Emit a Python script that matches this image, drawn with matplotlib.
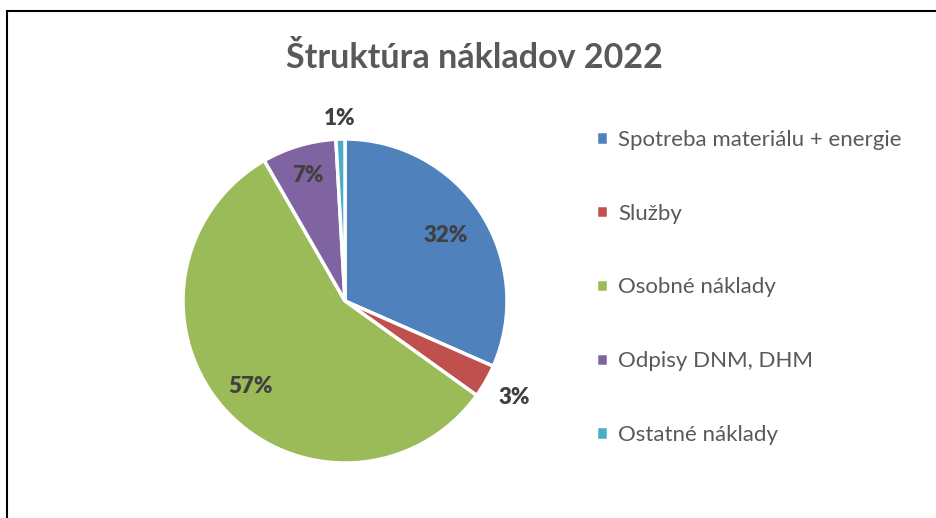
import matplotlib
matplotlib.use("Agg")
import matplotlib.pyplot as plt
from matplotlib.patches import Rectangle
import numpy as np

categories = ["Spotreba materiálu + energie", "Služby", "Osobné náklady",
              "Odpisy DNM, DHM", "Ostatné náklady"]
values = [31.6, 3.3, 56.8, 7.4, 0.9]
colors = ["#4F81BD", "#C0504D", "#9BBB59", "#8064A2", "#4BACC6"]
label_dist = [0.74, 1.2, 0.79, 0.81, 1.13]

plt.rcParams['font.family'] = ['Lato', 'DejaVu Sans']

fig = plt.figure(figsize=(9.36, 5.18), dpi=100)

# frame around the chart area (right and bottom edges run off the picture)
fig.patches.append(Rectangle((7 / 936, -0.1), 1.2, 1.1 - 11 / 518,
                             transform=fig.transFigure, fill=False,
                             edgecolor="black", linewidth=1.5))

ax = fig.add_axes([0.1609, 0.0436, 0.4154, 0.7506])
wedges, _ = ax.pie(values, colors=colors, startangle=90, counterclock=False,
                   radius=1.0, wedgeprops=dict(edgecolor="white", linewidth=2.5))
ax.set_xlim(-1.2, 1.2)
ax.set_ylim(-1.2, 1.2)
ax.set_aspect("equal")
ax.axis("off")

total = sum(values)
for w, v, d in zip(wedges, values, label_dist):
    ang = np.deg2rad((w.theta1 + w.theta2) / 2)
    ax.text(d * np.cos(ang), d * np.sin(ang), "{}%".format(round(v / total * 100)),
            ha="center", va="center", fontsize=16, fontweight="heavy",
            color="#404040")

fig.text(0.507, 0.888, "Štruktúra nákladov 2022", ha="center", va="center",
         fontsize=24.5, fontweight="bold", color="#595959")

leg = fig.legend(wedges, categories, loc="upper left",
                 bbox_to_anchor=(0.615, 0.788), frameon=False,
                 fontsize=16, labelcolor="#595959", handlelength=0.55,
                 handleheight=0.55, handletextpad=0.45, labelspacing=2.42)

plt.savefig("out.png", dpi=100)
